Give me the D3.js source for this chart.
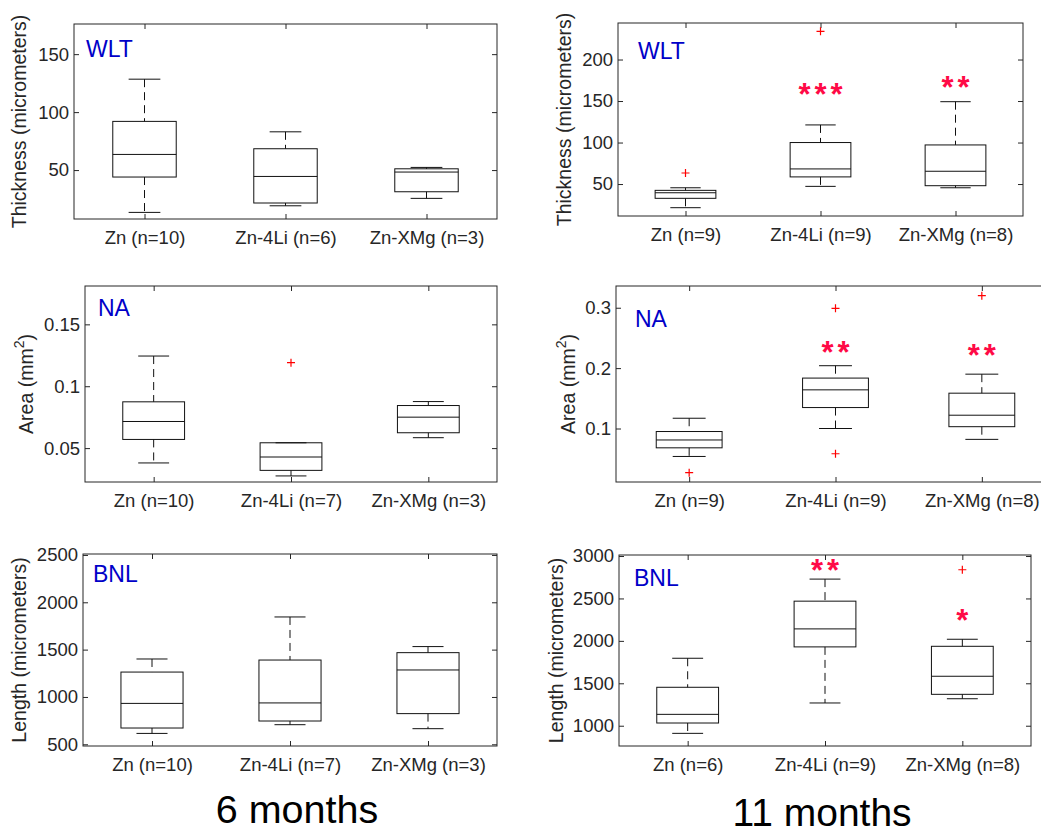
<!DOCTYPE html>
<html lang="en">

<head>
    <meta charset="UTF-8" />
    <title>Box plots: 6 months vs 11 months</title>
    <script src="https://d3js.org/d3.v7.min.js"></script>
    <style>
        body {
            margin: 0;
            background: #fff;
            font-family: "Liberation Sans", Arial, sans-serif;
        }
    </style>
</head>

<body>

    <div id="chart"></div>

    <script>
        // ---- data: [lower whisker, Q1, median, Q3, upper whisker] ----
        var wlt6Labels = ["Zn (n=10)", "Zn-4Li (n=6)", "Zn-XMg (n=3)"];
        var wlt6Stats = [[13.5, 44, 63.5, 92, 128.4], [19.2, 21.6, 44.5, 68.4, 83], [25.6, 31.3, 48.3, 51.1, 52.3]];
        var wlt6Outliers = [[], [], []];
        var wlt6Stars = ["", "", ""];
        var wlt6StarY = [0, 0, 0];

        var wlt11Labels = ["Zn (n=9)", "Zn-4Li (n=9)", "Zn-XMg (n=8)"];
        var wlt11Stats = [[21.5, 32.8, 39.5, 42.4, 45.5], [47.2, 58.6, 68.2, 100, 121.2], [45.5, 48, 65.4, 97.1, 149.2]];
        var wlt11Outliers = [[63.3], [234], []];
        var wlt11Stars = ["", "***", "**"];
        var wlt11StarY = [0, 165, 173];

        var na6Labels = ["Zn (n=10)", "Zn-4Li (n=7)", "Zn-XMg (n=3)"];
        var na6Stats = [[0.038, 0.057, 0.0715, 0.0874, 0.1244], [0.0275, 0.032, 0.0428, 0.0543, 0.0543], [0.0584, 0.0624, 0.075, 0.0844, 0.0876]];
        var na6Outliers = [[], [0.119], []];
        var na6Stars = ["", "", ""];
        var na6StarY = [0, 0, 0];

        var na11Labels = ["Zn (n=9)", "Zn-4Li (n=9)", "Zn-XMg (n=8)"];
        var na11Stats = [[0.0537, 0.068, 0.081, 0.095, 0.117], [0.1, 0.1347, 0.164, 0.1835, 0.204], [0.082, 0.103, 0.122, 0.1585, 0.19]];
        var na11Outliers = [[0.0268], [0.299, 0.0582], [0.32]];
        var na11Stars = ["", "**", "**"];
        var na11StarY = [0, 0.2345, 0.2296];

        var bnl6Labels = ["Zn (n=10)", "Zn-4Li (n=7)", "Zn-XMg (n=3)"];
        var bnl6Stats = [[615, 672, 932, 1263, 1401], [707, 746, 937, 1390, 1845], [665, 824, 1285, 1468, 1532]];
        var bnl6Outliers = [[], [], []];
        var bnl6Stars = ["", "", ""];
        var bnl6StarY = [0, 0, 0];

        var bnl11Labels = ["Zn (n=6)", "Zn-4Li (n=9)", "Zn-XMg (n=8)"];
        var bnl11Stats = [[910, 1032, 1134, 1453, 1795], [1268, 1929, 2141, 2468, 2728], [1318, 1370, 1583, 1936, 2019]];
        var bnl11Outliers = [[], [], [2838]];
        var bnl11Stars = ["", "**", "*"];
        var bnl11StarY = [0, 2894, 2304];

        var yTicksWlt6 = [50, 100, 150];
        var yTicksWlt11 = [50, 100, 150, 200];
        var yTicksNa6 = [0.05, 0.1, 0.15];
        var yTicksNa11 = [0.1, 0.2, 0.3];
        var yTicksBnl6 = [500, 1000, 1500, 2000, 2500];
        var yTicksBnl11 = [1000, 1500, 2000, 2500, 3000];

        // ---- layout ----
        var w = 1041, h = 833;
        var axisColor = "#262626";
        var starColor = "#ff0a46";
        var tagColor = "#0000c8";

        var svg = d3.select("#chart")
            .append("svg")
            .attr("width", w)
            .attr("height", h);

        var panels = [
            { labels: wlt6Labels, stats: wlt6Stats, outliers: wlt6Outliers, stars: wlt6Stars, starY: wlt6StarY,
              ticks: yTicksWlt6, domain: [7.8, 176], left: 74, right: 497, top: 24, bottom: 219,
              tag: "WLT", tagX: 86, tagY: 57, ylabel: "Thickness (micrometers)", ylabelX: 26 },
            { labels: wlt11Labels, stats: wlt11Stats, outliers: wlt11Outliers, stars: wlt11Stars, starY: wlt11StarY,
              ticks: yTicksWlt11, domain: [11.5, 244], left: 618, right: 1023, top: 23, bottom: 216,
              tag: "WLT", tagX: 638, tagY: 59, ylabel: "Thickness (micrometers)", ylabelX: 571 },
            { labels: na6Labels, stats: na6Stats, outliers: na6Outliers, stars: na6Stars, starY: na6StarY,
              ticks: yTicksNa6, domain: [0.0226, 0.181], left: 85, right: 497, top: 286, bottom: 482,
              tag: "NA", tagX: 98, tagY: 316, ylabel: "area", ylabelX: 33 },
            { labels: na11Labels, stats: na11Stats, outliers: na11Outliers, stars: na11Stars, starY: na11StarY,
              ticks: yTicksNa11, domain: [0.0114, 0.336], left: 616, right: 1055, top: 286, bottom: 482,
              tag: "NA", tagX: 635, tagY: 327, ylabel: "area", ylabelX: 575 },
            { labels: bnl6Labels, stats: bnl6Stats, outliers: bnl6Outliers, stars: bnl6Stars, starY: bnl6StarY,
              ticks: yTicksBnl6, domain: [482, 2510], left: 83, right: 497, top: 554, bottom: 746,
              tag: "BNL", tagX: 93, tagY: 582, ylabel: "Length (micrometers)", ylabelX: 26 },
            { labels: bnl11Labels, stats: bnl11Stats, outliers: bnl11Outliers, stars: bnl11Stars, starY: bnl11StarY,
              ticks: yTicksBnl11, domain: [761, 3012], left: 619, right: 1031, top: 555, bottom: 746,
              tag: "BNL", tagX: 634, tagY: 586, ylabel: "Length (micrometers)", ylabelX: 563 }
        ];

        panels.forEach(drawPanel);

        function styleAxis(sel, withText) {
            sel.select(".domain").remove();
            sel.selectAll(".tick line").attr("stroke", axisColor);
            sel.selectAll("text")
                .attr("fill", axisColor)
                .style("font-size", "18.5px")
                .style("font-family", "'Liberation Sans', Arial, sans-serif");
            if (!withText) sel.selectAll("text").remove();
        }

        function drawPanel(p) {
            var x = d3.scalePoint().domain(p.labels).range([p.left, p.right]).padding(0.5);
            var y = d3.scaleLinear().domain(p.domain).range([p.bottom, p.top]);
            var boxW = x.step() * 0.45;
            var capW = boxW / 2;
            var fmt = d3.format("~g");

            var g = svg.append("g");

            // axes, ticks pointing inwards on all four sides
            g.append("g").attr("transform", "translate(" + p.left + ",0)")
                .call(d3.axisLeft(y).tickValues(p.ticks).tickSizeInner(-5).tickSizeOuter(0).tickPadding(5).tickFormat(fmt))
                .call(styleAxis, true);
            g.append("g").attr("transform", "translate(" + p.right + ",0)")
                .call(d3.axisRight(y).tickValues(p.ticks).tickSizeInner(-5).tickSizeOuter(0))
                .call(styleAxis, false);
            g.append("g").attr("transform", "translate(0," + p.bottom + ")")
                .call(d3.axisBottom(x).tickSizeInner(-5).tickSizeOuter(0).tickPadding(12))
                .call(styleAxis, true);
            g.append("g").attr("transform", "translate(0," + p.top + ")")
                .call(d3.axisTop(x).tickSizeInner(-5).tickSizeOuter(0))
                .call(styleAxis, false);

            // frame
            g.append("rect")
                .attr("x", p.left)
                .attr("y", p.top)
                .attr("width", p.right - p.left)
                .attr("height", p.bottom - p.top)
                .attr("fill", "none")
                .attr("stroke", axisColor)
                .attr("stroke-width", 1);

            var boxes = g.selectAll(".box")
                .data(p.stats)
                .enter()
                .append("g")
                .attr("class", "box");

            // dashed whiskers
            boxes.append("line")
                .attr("x1", function(d, i) { return x(p.labels[i]); })
                .attr("x2", function(d, i) { return x(p.labels[i]); })
                .attr("y1", function(d) { return y(d[4]); })
                .attr("y2", function(d) { return y(d[3]); })
                .attr("stroke", "#111")
                .attr("stroke-dasharray", "8,5");
            boxes.append("line")
                .attr("x1", function(d, i) { return x(p.labels[i]); })
                .attr("x2", function(d, i) { return x(p.labels[i]); })
                .attr("y1", function(d) { return y(d[1]); })
                .attr("y2", function(d) { return y(d[0]); })
                .attr("stroke", "#111")
                .attr("stroke-dasharray", "8,5");

            // whisker caps
            [0, 4].forEach(function(k) {
                boxes.append("line")
                    .attr("x1", function(d, i) { return x(p.labels[i]) - capW / 2; })
                    .attr("x2", function(d, i) { return x(p.labels[i]) + capW / 2; })
                    .attr("y1", function(d) { return y(d[k]); })
                    .attr("y2", function(d) { return y(d[k]); })
                    .attr("stroke", "#111");
            });

            // box
            boxes.append("rect")
                .attr("x", function(d, i) { return x(p.labels[i]) - boxW / 2; })
                .attr("y", function(d) { return y(d[3]); })
                .attr("width", boxW)
                .attr("height", function(d) { return y(d[1]) - y(d[3]); })
                .attr("fill", "none")
                .attr("stroke", "#111");

            // median
            boxes.append("line")
                .attr("x1", function(d, i) { return x(p.labels[i]) - boxW / 2; })
                .attr("x2", function(d, i) { return x(p.labels[i]) + boxW / 2; })
                .attr("y1", function(d) { return y(d[2]); })
                .attr("y2", function(d) { return y(d[2]); })
                .attr("stroke", "#111");

            // outliers as red plus signs
            var pts = [];
            p.outliers.forEach(function(list, i) {
                list.forEach(function(v) { pts.push({ cx: x(p.labels[i]), cy: y(v) }); });
            });
            g.selectAll(".outlier")
                .data(pts)
                .enter()
                .append("path")
                .attr("class", "outlier")
                .attr("d", function(d) {
                    return "M" + (d.cx - 4) + "," + d.cy + "H" + (d.cx + 4) +
                           "M" + d.cx + "," + (d.cy - 4) + "V" + (d.cy + 4);
                })
                .attr("stroke", "#ff0000")
                .attr("stroke-width", 1.2);

            // significance stars
            g.selectAll(".stars")
                .data(p.stars)
                .enter()
                .append("text")
                .attr("class", "stars")
                .attr("x", function(d, i) { return x(p.labels[i]) + 2; })
                .attr("y", function(d, i) { return y(p.starY[i]) + 16; })
                .attr("text-anchor", "middle")
                .attr("fill", starColor)
                .style("font-size", "31px")
                .style("font-weight", "bold")
                .style("letter-spacing", "4px")
                .text(function(d) { return d; });

            // blue panel tag
            g.append("text")
                .attr("x", p.tagX)
                .attr("y", p.tagY)
                .attr("fill", tagColor)
                .style("font-size", "23px")
                .text(p.tag);

            // y axis label
            var cy = (p.top + p.bottom) / 2;
            var lab = g.append("text")
                .attr("transform", "translate(" + p.ylabelX + "," + cy + ") rotate(-90)")
                .attr("text-anchor", "middle")
                .attr("fill", axisColor)
                .style("font-size", "19.5px");
            if (p.ylabel === "area") {
                lab.append("tspan").text("Area (mm");
                lab.append("tspan").attr("dy", -9).style("font-size", "14px").text("2");
                lab.append("tspan").attr("dy", 9).text(")");
            } else {
                lab.text(p.ylabel);
            }
        }

        // column titles
        svg.append("text")
            .attr("x", 297)
            .attr("y", 823)
            .attr("text-anchor", "middle")
            .attr("fill", "#000")
            .style("font-size", "39.5px")
            .text("6 months");
        svg.append("text")
            .attr("x", 822)
            .attr("y", 826)
            .attr("text-anchor", "middle")
            .attr("fill", "#000")
            .style("font-size", "39px")
            .text("11 months");
    </script>

</body>

</html>
